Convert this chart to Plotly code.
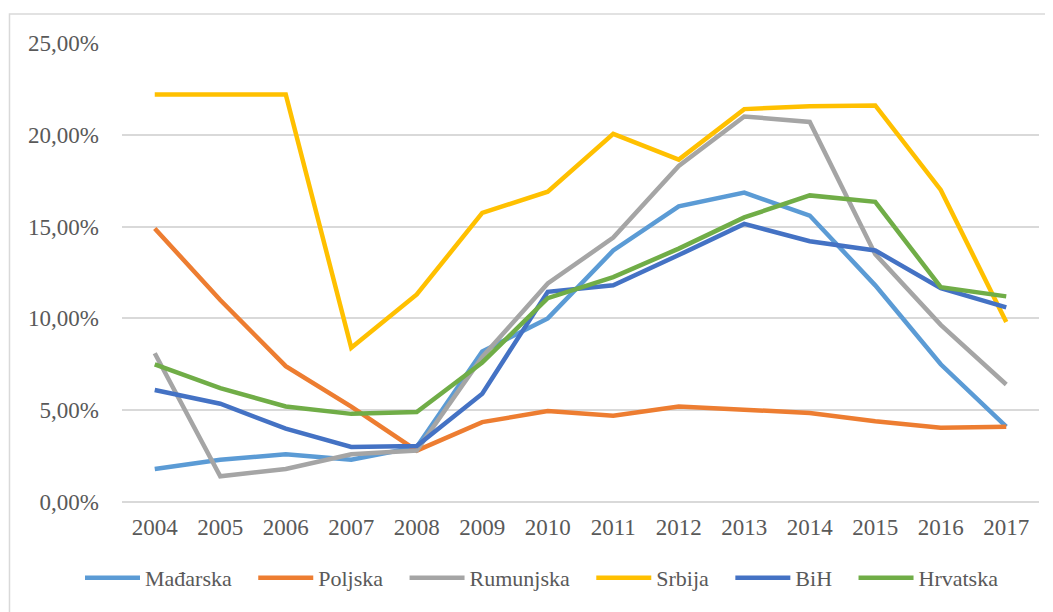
import plotly.graph_objects as go

years = ["2004", "2005", "2006", "2007", "2008", "2009", "2010",
         "2011", "2012", "2013", "2014", "2015", "2016", "2017"]

madjarska = [1.8, 2.3, 2.6, 2.3, 3.0, 8.2, 10.0, 13.7, 16.1, 16.85, 15.6, 11.8, 7.5, 4.1]
poljska = [14.9, 11.0, 7.4, 5.2, 2.8, 4.35, 4.95, 4.7, 5.2, 5.0, 4.85, 4.4, 4.05, 4.1]
rumunjska = [8.1, 1.4, 1.8, 2.6, 2.8, 7.9, 11.9, 14.4, 18.3, 21.0, 20.7, 13.5, 9.65, 6.4]
srbija = [22.2, 22.2, 22.2, 8.4, 11.3, 15.75, 16.9, 20.05, 18.65, 21.4, 21.55, 21.6, 17.0, 9.8]
bih = [6.1, 5.35, 4.0, 3.0, 3.05, 5.9, 11.45, 11.8, 13.45, 15.15, 14.2, 13.7, 11.65, 10.6]
hrvatska = [7.5, 6.2, 5.2, 4.8, 4.9, 7.6, 11.1, 12.25, 13.8, 15.5, 16.7, 16.35, 11.7, 11.2]

series = [
    ("Mađarska", madjarska, "#5B9BD5"),
    ("Poljska", poljska, "#ED7D31"),
    ("Rumunjska", rumunjska, "#A5A5A5"),
    ("Srbija", srbija, "#FFC000"),
    ("BiH", bih, "#4472C4"),
    ("Hrvatska", hrvatska, "#70AD47"),
]

PAD = "\u00a0\u00a0\u00a0"  # extra spacing between legend entries

fig = go.Figure()
for i, (name, vals, color) in enumerate(series):
    label = name + (PAD if i < len(series) - 1 else "")
    fig.add_trace(go.Scatter(
        x=years, y=[v / 100 for v in vals], name=label, mode="lines",
        line=dict(color=color, width=4.5),
        hovertemplate=name + ": %{y:.2%}<extra></extra>",
    ))

font_family = "Liberation Serif, Times New Roman, serif"
text_color = "#595959"
grid_color = "#D9D9D9"

# page body has an 8px margin, so the figure is laid out 8px smaller
fig.update_layout(
    width=1045, height=604,
    margin=dict(l=114, r=14, t=35, b=110),
    paper_bgcolor="white", plot_bgcolor="white",
    separators=",.",
    font=dict(family=font_family, size=23, color=text_color),
    showlegend=True,
    legend=dict(orientation="h", x=-0.0458, xanchor="left", y=-0.1656, yanchor="middle",
                font=dict(family=font_family, size=22, color=text_color),
                itemwidth=55, bgcolor="rgba(0,0,0,0)"),
    xaxis=dict(type="category", range=[-0.5, 13.5], showgrid=False, zeroline=False,
               showline=False, ticks="", ticklabelstandoff=9,
               tickfont=dict(family=font_family, size=23, color=text_color)),
    yaxis=dict(range=[0, 0.25], dtick=0.05, tick0=0, tickformat=".2%",
               showgrid=True, gridcolor=grid_color, gridwidth=1.5,
               zeroline=True, zerolinecolor=grid_color, zerolinewidth=1.5,
               showline=False, ticks="", ticklabelstandoff=22,
               tickfont=dict(family=font_family, size=23, color=text_color)),
    shapes=[dict(type="rect", xref="paper", yref="paper",
                 x0=-0.1227, x1=1.1, y0=-0.3, y1=1.0632,
                 line=dict(color=grid_color, width=1.5), layer="below")],
)

fig.write_html("out.html")
